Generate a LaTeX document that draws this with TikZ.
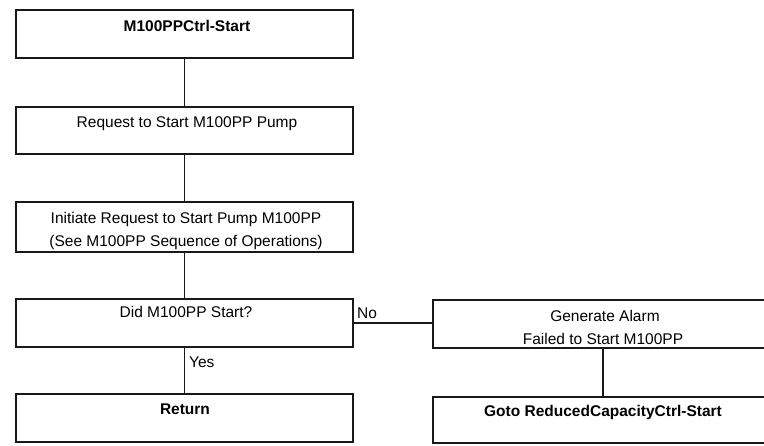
\documentclass[tikz,border=0pt]{standalone}
\usepackage{fontspec}
\setmainfont{Liberation Sans}
\begin{document}
\begin{tikzpicture}[x=1pt,y=-1pt,
  box/.style={draw=black!90, line width=1.7pt, rectangle, inner sep=0pt, outer sep=0pt},
  txt/.style={anchor=base, inner sep=0pt, font=\fontsize{15.5pt}{18pt}\selectfont, text=black},
  btxt/.style={txt, font=\fontsize{15.5pt}{18pt}\selectfont\bfseries},
  conn/.style={draw=black!90, line width=1.7pt}]
\useasboundingbox (0,0) rectangle (764,445);
\begin{scope}
\clip (0,0) rectangle (764,445);
\node[box, minimum width=337pt, minimum height=48pt] (b1) at (184.5,34) {};
\node[box, minimum width=337pt, minimum height=47pt] (b2) at (184.5,130.5) {};
\node[box, minimum width=337pt, minimum height=50pt] (b3) at (184.5,227) {};
\node[box, minimum width=337pt, minimum height=48pt] (b4) at (184.5,323) {};
\node[box, minimum width=337pt, minimum height=48pt] (b5) at (184.5,418) {};
\node[box, minimum width=344pt, minimum height=48pt] (b6) at (605,324) {};
\node[box, minimum width=344pt, minimum height=46pt] (b7) at (605,420) {};

\node[btxt] (t1) at (187,31) {M100PPCtrl-Start};
\node[txt] (t2) at (187,127) {Request to Start M100PP Pump};
\node[txt] (t3a) at (186,223) {Initiate Request to Start Pump M100PP};
\node[txt] (t3b) at (186,246) {(See M100PP Sequence of Operations)};
\node[txt] (t4) at (186,317) {Did M100PP Start?};
\node[btxt] (t5) at (185,414) {Return};
\node[txt] (t6a) at (605,321) {Generate Alarm};
\node[txt] (t6b) at (603,344) {Failed to Start M100PP};
\node[btxt] (t7) at (603,416) {Goto ReducedCapacityCtrl-Start};

\draw[conn] (b1.south) -- (b2.north);
\draw[conn] (b2.south) -- (b3.north);
\draw[conn] (b3.south) -- (b4.north);
\draw[conn] (b4.south) -- (b5.north);
\draw[conn] (b4.east) -- (b4.east -| b6.west);
\draw[conn] ([xshift=-2pt]b6.south) -- ([xshift=-2pt]b7.north);

\node[txt, anchor=base west] (no) at (357,318) {No};
\node[txt, anchor=base west] (yes) at (189,367) {Yes};
\end{scope}
\end{tikzpicture}
\end{document}
